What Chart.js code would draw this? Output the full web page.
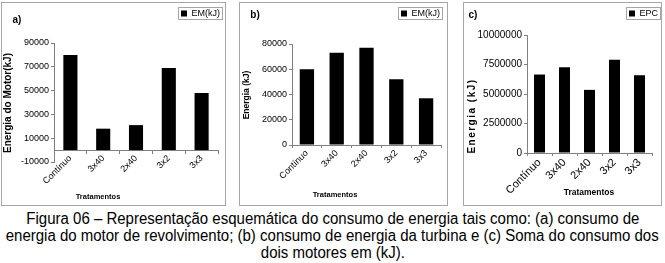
<!DOCTYPE html>
<html><head><meta charset="utf-8">
<script src="https://cdn.jsdelivr.net/npm/chart.js@4"></script>
<style>
body{margin:0;background:#fff;width:665px;height:263px;overflow:hidden;position:relative;font-family:'Liberation Sans',Arial,sans-serif}
.panel{position:absolute;top:2px;height:202px;border:1px solid #a6a6a6;}
.panel canvas{display:block}
#cap{position:absolute;left:0;top:210px;width:665px;display:flex;flex-direction:column;align-items:center;font-family:'Liberation Sans',Arial,sans-serif;font-size:16px;line-height:17px;color:#000}
#cap span{white-space:nowrap;display:block;transform-origin:50% 50%}
</style></head><body>
<div class="panel" style="left:1px;width:223px"><canvas id="ca" width="223" height="202"></canvas></div>
<div class="panel" style="left:239px;width:207px"><canvas id="cb" width="207" height="202"></canvas></div>
<div class="panel" style="left:463px;width:197px"><canvas id="cc" width="197" height="202"></canvas></div>
<div id="cap"><span>Figura 06 – Representação esquemática do consumo de energia tais como: (a) consumo de</span><span id="l2">energia do motor de revolvimento; (b) consumo de energia da turbina e (c) Soma do consumo dos</span><span>dois motores em (kJ).</span></div>
<script>
const categories = ['Contínuo','3x40','2x40','3x2','3x3'];
const energiaMotor = [80000, 18000, 21000, 69000, 48000];
const energiaTurbina = [60000, 73000, 77000, 52000, 37000];
const energiaTotal = [6650000, 7270000, 5350000, 7910000, 6590000];
const yTicksA = [-10000, 10000, 30000, 50000, 70000, 90000];
const yTicksB = [0, 20000, 40000, 60000, 80000];
const yTicksC = [0, 2500000, 5000000, 7500000, 10000000];

// fit caption: second line spans ~653px in the reference
(function () {
  const w = document.getElementById('l2').getBoundingClientRect().width;
  const k = 653 / w;
  document.querySelectorAll('#cap span').forEach(s => { s.style.transform = 'scaleX(' + k + ')'; });
})();

const F = "'Liberation Sans', Arial, sans-serif";
Chart.defaults.font.family = F;
Chart.defaults.color = '#000';

const deco = {
  id: 'deco',
  afterDraw(chart, args, o) {
    const ctx = chart.ctx;
    ctx.save();
    const lg = chart.legend;
    if (lg && lg.legendHitBoxes && lg.legendHitBoxes.length) {
      const hb = lg.legendHitBoxes[0];
      ctx.strokeStyle = '#a6a6a6'; ctx.lineWidth = 1;
      ctx.strokeRect(Math.round(hb.left - 3) + 0.5, Math.round(hb.top - 2) + 0.5, Math.round(hb.width + 5), Math.round(hb.height + 3));
    }
    (o.texts || []).forEach(t => {
      ctx.save();
      ctx.font = t.font; ctx.fillStyle = '#000'; ctx.textAlign = 'center'; ctx.textBaseline = 'middle';
      if (t.spacing) ctx.letterSpacing = t.spacing;
      ctx.translate(t.x, t.y); if (t.rot) ctx.rotate(t.rot);
      ctx.fillText(t.text, 0, 0);
      ctx.restore();
    });
    ctx.restore();
  }
};

function build(id, cfg) {
  const tk = cfg.ticks;
  new Chart(document.getElementById(id), {
    type: 'bar',
    data: { labels: categories, datasets: [{ label: cfg.label, data: cfg.data, backgroundColor: '#000', borderWidth: 0, barPercentage: cfg.bar, categoryPercentage: 1 }] },
    options: {
      responsive: false, animation: false, devicePixelRatio: 1,
      layout: { padding: { top: 3, right: cfg.padR, left: 0, bottom: cfg.padB } },
      plugins: {
        legend: { position: 'top', align: 'end', labels: { boxWidth: 6, boxHeight: 6, padding: 3, font: { size: 9 }, color: '#000' } },
        title: { display: true, text: '', weight: 0, padding: { top: 0, bottom: cfg.spacer }, font: { size: 1, lineHeight: 1 } },
        tooltip: { enabled: false },
        deco: { texts: cfg.texts }
      },
      scales: {
        x: {
          position: cfg.xPos,
          grid: { drawOnChartArea: false, offset: true, tickLength: 3, color: '#808080' },
          border: { color: '#808080' },
          ticks: { minRotation: 45, maxRotation: 45, autoSkip: false, padding: 0, font: { size: cfg.xFont }, color: '#000' },
          afterFit: s => { s.height = cfg.xH; }
        },
        y: {
          min: tk[0], max: tk[tk.length - 1],
          ticks: { stepSize: tk[1] - tk[0], font: { size: cfg.yFont }, padding: 2, color: '#000', callback: v => String(v) },
          grid: { drawOnChartArea: false, tickLength: 3, color: '#808080' },
          border: { color: '#808080' },
          afterFit: s => { s.width = cfg.yW; }
        },
        yR: {
          position: 'right', display: true,
          grid: { display: false }, border: { display: false }, ticks: { display: false },
          afterFit: s => { s.width = cfg.rW; }
        }
      }
    },
    plugins: [deco]
  });
}

build('ca', {
  label: 'EM(kJ)', data: energiaMotor, ticks: yTicksA, bar: 0.43,
  xPos: { y: 0 }, xH: 0, padB: 43, yW: 52, rW: 5, padR: 2, spacer: 14, xFont: 9, yFont: 9,
  texts: [
    { text: 'a)', x: 15, y: 17, font: 'bold 10px ' + F },
    { text: 'Energia do Motor(kJ)', x: 6, y: 100, rot: -Math.PI / 2, font: 'bold 10px ' + F },
    { text: 'Tratamentos', x: 96, y: 194, font: 'bold 7.5px ' + F }
  ]
});
build('cb', {
  label: 'EM(kJ)', data: energiaTurbina, ticks: yTicksB, bar: 0.48,
  xPos: 'bottom', xH: 60, padB: 0, yW: 52, rW: 2, padR: 4, spacer: 15, xFont: 9, yFont: 9,
  texts: [
    { text: 'b)', x: 15, y: 12, font: 'bold 10px ' + F },
    { text: 'Energia (kJ)', x: 7, y: 92, rot: -Math.PI / 2, font: 'bold 8.5px ' + F },
    { text: 'Tratamentos', x: 95, y: 192, font: 'bold 7.5px ' + F }
  ]
});
build('cc', {
  label: 'EPC', data: energiaTotal, ticks: yTicksC, bar: 0.44,
  xPos: 'bottom', xH: 52, padB: 0, yW: 63, rW: 9, padR: 0, spacer: 6, xFont: 11, yFont: 10,
  texts: [
    { text: 'c)', x: 9, y: 12, font: 'bold 10px ' + F },
    { text: 'Energia (kJ)', x: 8, y: 113, rot: -Math.PI / 2, font: 'bold 10px ' + F, spacing: '1.5px' },
    { text: 'Tratamentos', x: 125, y: 190, font: 'bold 8.5px ' + F }
  ]
});
</script>
</body></html>
